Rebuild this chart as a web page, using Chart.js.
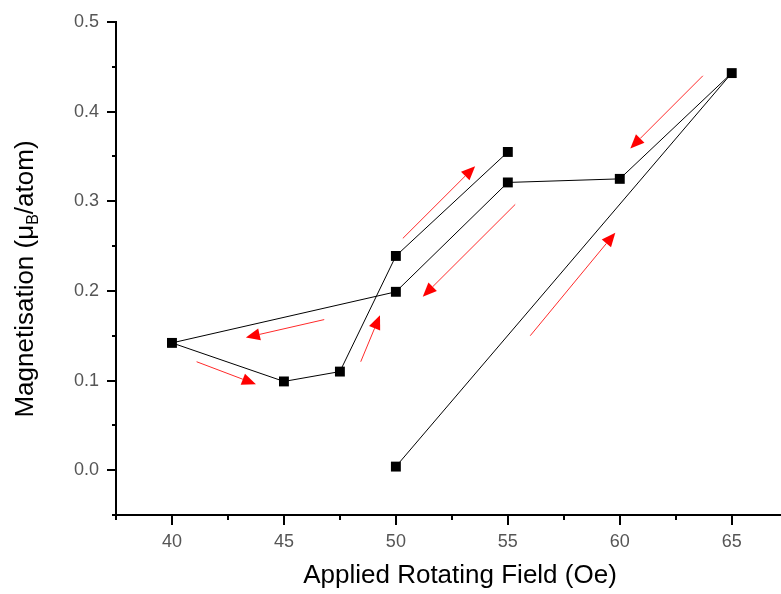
<!DOCTYPE html>
<html>
<head>
<meta charset="utf-8">
<script src="https://cdn.jsdelivr.net/npm/chart.js@4/dist/chart.umd.min.js"></script>
<style>
  html, body { margin: 0; padding: 0; background: #fff; }
  #wrap { width: 781px; height: 594px; }
</style>
</head>
<body>
<div id="wrap"><canvas id="c" width="781" height="594"></canvas></div>
<script>
// Field sweep, in measurement order
const fieldOe = [50, 65, 60, 55, 50, 40, 45, 47.5, 50, 55];
const magnetisation = [0.004, 0.443, 0.325, 0.321, 0.199, 0.142, 0.099, 0.110, 0.239, 0.355];

// Axis ticks
const xMajorTicks = [40, 45, 50, 55, 60, 65];
const xMinorTicks = [37.5, 42.5, 47.5, 52.5, 57.5, 62.5];
const yMajorTicks = [0, 0.1, 0.2, 0.3, 0.4, 0.5];
const yMinorTicks = [-0.05, 0.05, 0.15, 0.25, 0.35, 0.45];

// Sweep-direction arrows (data units): tail -> tip
const arrowTails = [[63.71, 0.440], [56.0, 0.150], [55.33, 0.2965], [46.8, 0.168], [41.1, 0.121], [48.43, 0.121], [50.31, 0.2586]];
const arrowTips  = [[60.47, 0.359], [59.8, 0.265], [51.2, 0.1936], [43.3, 0.148], [43.75, 0.0959], [49.29, 0.1728], [53.54, 0.3392]];

const FONT = '"Liberation Sans", Arial, Helvetica, sans-serif';

const decorations = {
  id: 'decorations',
  afterDatasetsDraw(chart) {
    const ctx = chart.ctx;
    const xs = chart.scales.x, ys = chart.scales.y;
    const area = chart.chartArea;

    // minor tick marks
    ctx.save();
    ctx.strokeStyle = '#000';
    ctx.lineWidth = 2;
    ctx.beginPath();
    xMinorTicks.forEach(v => {
      const px = Math.round(xs.getPixelForValue(v));
      ctx.moveTo(px, area.bottom);
      ctx.lineTo(px, area.bottom + 5);
    });
    yMinorTicks.forEach(v => {
      const py = Math.round(ys.getPixelForValue(v));
      ctx.moveTo(area.left, py);
      ctx.lineTo(area.left - 4, py);
    });
    ctx.stroke();
    ctx.restore();

    // direction arrows
    ctx.save();
    ctx.strokeStyle = '#ff2a2a';
    ctx.fillStyle = '#ff0000';
    ctx.lineWidth = 1;
    arrowTails.forEach((t, i) => {
      const x0 = xs.getPixelForValue(t[0]), y0 = ys.getPixelForValue(t[1]);
      const x1 = xs.getPixelForValue(arrowTips[i][0]), y1 = ys.getPixelForValue(arrowTips[i][1]);
      const ang = Math.atan2(y1 - y0, x1 - x0);
      const headLen = 14, headHalf = 6;
      const bx = x1 - headLen * Math.cos(ang), by = y1 - headLen * Math.sin(ang);
      ctx.beginPath();
      ctx.moveTo(x0, y0);
      ctx.lineTo(bx, by);
      ctx.stroke();
      ctx.beginPath();
      ctx.moveTo(x1, y1);
      ctx.lineTo(bx + headHalf * Math.sin(ang), by - headHalf * Math.cos(ang));
      ctx.lineTo(bx - headHalf * Math.sin(ang), by + headHalf * Math.cos(ang));
      ctx.closePath();
      ctx.fill();
    });
    ctx.restore();

    // axis titles
    ctx.save();
    ctx.fillStyle = '#000';
    ctx.textBaseline = 'middle';
    ctx.textAlign = 'center';
    ctx.font = '26px ' + FONT;
    ctx.fillText('Applied Rotating Field (Oe)', 460, 576);

    // y title with subscript B
    const partA = 'Magnetisation (\u03bc', partB = 'B', partC = '/atom)';
    ctx.textAlign = 'left';
    ctx.font = '26px ' + FONT;
    const wA = ctx.measureText(partA).width, wC = ctx.measureText(partC).width;
    ctx.font = '16px ' + FONT;
    const wB = ctx.measureText(partB).width;
    const total = wA + wB + wC;
    ctx.translate(26, 279);
    ctx.rotate(-Math.PI / 2);
    let pos = -total / 2;
    ctx.font = '26px ' + FONT;
    ctx.fillText(partA, pos, 0);
    pos += wA;
    ctx.font = '16px ' + FONT;
    ctx.fillText(partB, pos, 8);
    pos += wB;
    ctx.font = '26px ' + FONT;
    ctx.fillText(partC, pos, 0);
    ctx.restore();
  }
};

new Chart(document.getElementById('c'), {
  type: 'scatter',
  data: {
    datasets: [{
      data: fieldOe.map((x, i) => ({ x: x, y: magnetisation[i] })),
      showLine: true,
      borderColor: '#000',
      borderWidth: 1,
      backgroundColor: '#000',
      pointStyle: 'rect',
      pointRadius: 7,
      pointHoverRadius: 7,
      pointBorderWidth: 0,
      tension: 0
    }]
  },
  options: {
    responsive: false,
    animation: false,
    devicePixelRatio: 1,
    layout: { autoPadding: false, padding: { top: 22, right: 0, left: 0, bottom: 0 } },
    plugins: { legend: { display: false }, tooltip: { enabled: false } },
    scales: {
      x: {
        type: 'linear',
        min: 37.5,
        max: 67.2,
        afterBuildTicks: s => { s.ticks = xMajorTicks.map(v => ({ value: v })); },
        afterFit: s => { s.height = 79; s.paddingLeft = 0; s.paddingRight = 0; },
        ticks: {
          font: { size: 18, family: FONT },
          color: '#555',
          padding: 6,
          maxRotation: 0,
          autoSkip: false,
          callback: v => String(v)
        },
        grid: { drawOnChartArea: false, tickLength: 10, lineWidth: 2, color: '#000' },
        border: { color: '#000', width: 2 }
      },
      y: {
        type: 'linear',
        min: -0.05,
        max: 0.5,
        afterBuildTicks: s => { s.ticks = yMajorTicks.map(v => ({ value: v })); },
        afterFit: s => { s.width = 116; s.paddingTop = 0; s.paddingBottom = 0; },
        ticks: {
          font: { size: 18, family: FONT },
          color: '#555',
          padding: 8,
          autoSkip: false,
          callback: v => v.toFixed(1)
        },
        grid: { drawOnChartArea: false, tickLength: 9, lineWidth: 2, color: '#000' },
        border: { color: '#000', width: 2 }
      }
    }
  },
  plugins: [decorations]
});
</script>
</body>
</html>
